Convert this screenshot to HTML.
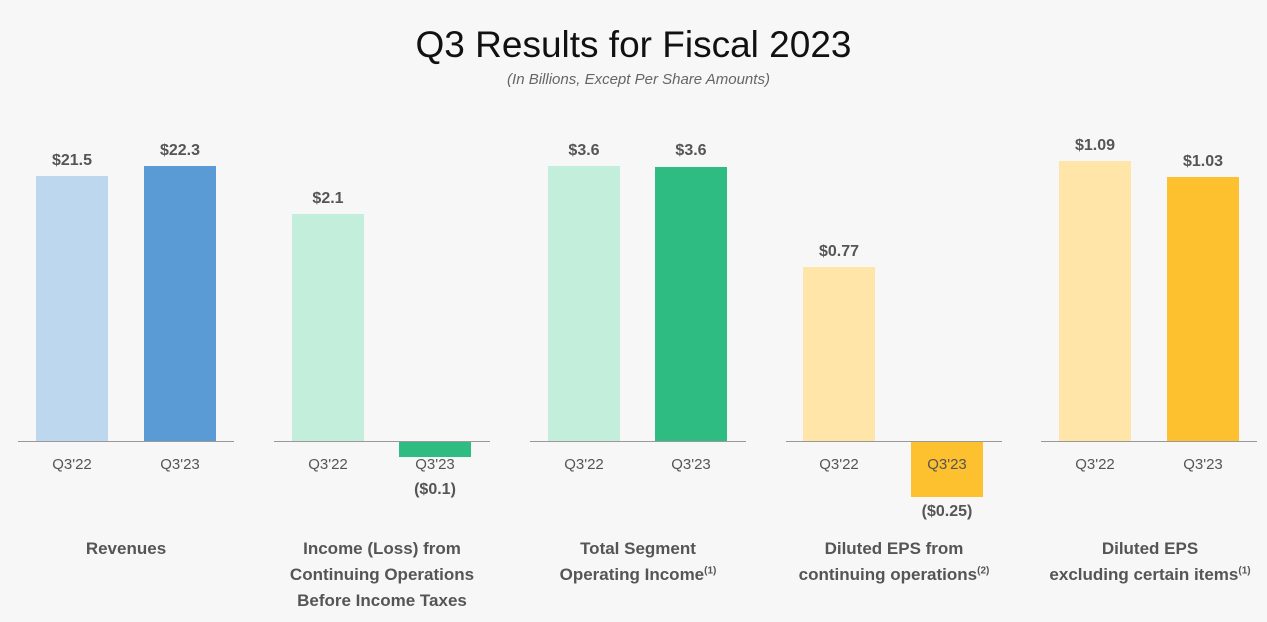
<!DOCTYPE html><html><head><style>
body{margin:0;width:1267px;height:622px;background:#f7f7f7;font-family:"Liberation Sans",sans-serif;position:relative;overflow:hidden}
div{position:absolute}
.b{width:72px}
.v{width:100px;text-align:center;font-weight:bold;font-size:16px;color:#555}
.q{width:100px;text-align:center;font-size:15px;color:#555;top:456px}
.ax{height:1px;background:#999;top:441px;width:216px}
.t{width:230px;text-align:center;font-weight:bold;font-size:17px;line-height:26px;color:#555;top:536px}
sup{font-size:10px;line-height:0}
</style></head><body>
<div style="left:0;width:1267px;top:24px;text-align:center;font-size:37px;color:#111">Q3 Results for Fiscal 2023</div>
<div style="left:0;width:1277px;top:71px;text-align:center;font-size:15px;font-style:italic;color:#666">(In Billions, Except Per Share Amounts)</div>

<div class="ax" style="left:18px"></div>
<div class="b" style="left:36px;top:176px;height:265px;background:#bdd7ee"></div>
<div class="b" style="left:144px;top:166px;height:275px;background:#5b9bd5"></div>
<div class="v" style="left:22px;top:152px">$21.5</div>
<div class="v" style="left:130px;top:142px">$22.3</div>
<div class="q" style="left:22px">Q3'22</div><div class="q" style="left:130px">Q3'23</div>
<div class="t" style="left:11px">Revenues</div>

<div class="ax" style="left:274px"></div>
<div class="b" style="left:292px;top:214px;height:227px;background:#c3eedb"></div>
<div class="b" style="left:399px;top:442px;height:15px;background:#2ebc82"></div>
<div class="v" style="left:278px;top:190px">$2.1</div>
<div class="v" style="left:385px;top:481px">($0.1)</div>
<div class="q" style="left:278px">Q3'22</div><div class="q" style="left:385px">Q3'23</div>
<div class="t" style="left:267px">Income (Loss) from<br>Continuing Operations<br>Before Income Taxes</div>

<div class="ax" style="left:530px"></div>
<div class="b" style="left:548px;top:166px;height:275px;background:#c3eedb"></div>
<div class="b" style="left:655px;top:167px;height:274px;background:#2ebc82"></div>
<div class="v" style="left:534px;top:142px">$3.6</div>
<div class="v" style="left:641px;top:142px">$3.6</div>
<div class="q" style="left:534px">Q3'22</div><div class="q" style="left:641px">Q3'23</div>
<div class="t" style="left:523px">Total Segment<br>Operating Income<sup>(1)</sup></div>

<div class="ax" style="left:786px"></div>
<div class="b" style="left:803px;top:267px;height:174px;background:#ffe6a8"></div>
<div class="b" style="left:911px;top:442px;height:55px;background:#fdc02f"></div>
<div class="v" style="left:789px;top:243px">$0.77</div>
<div class="v" style="left:897px;top:503px">($0.25)</div>
<div class="q" style="left:789px">Q3'22</div><div class="q" style="left:897px">Q3'23</div>
<div class="t" style="left:779px">Diluted EPS from<br>continuing operations<sup>(2)</sup></div>

<div class="ax" style="left:1041px"></div>
<div class="b" style="left:1059px;top:161px;height:280px;background:#ffe6a8"></div>
<div class="b" style="left:1167px;top:177px;height:264px;background:#fdc02f"></div>
<div class="v" style="left:1045px;top:137px">$1.09</div>
<div class="v" style="left:1153px;top:153px">$1.03</div>
<div class="q" style="left:1045px">Q3'22</div><div class="q" style="left:1153px">Q3'23</div>
<div class="t" style="left:1035px">Diluted EPS<br>excluding certain items<sup>(1)</sup></div>
</body></html>
